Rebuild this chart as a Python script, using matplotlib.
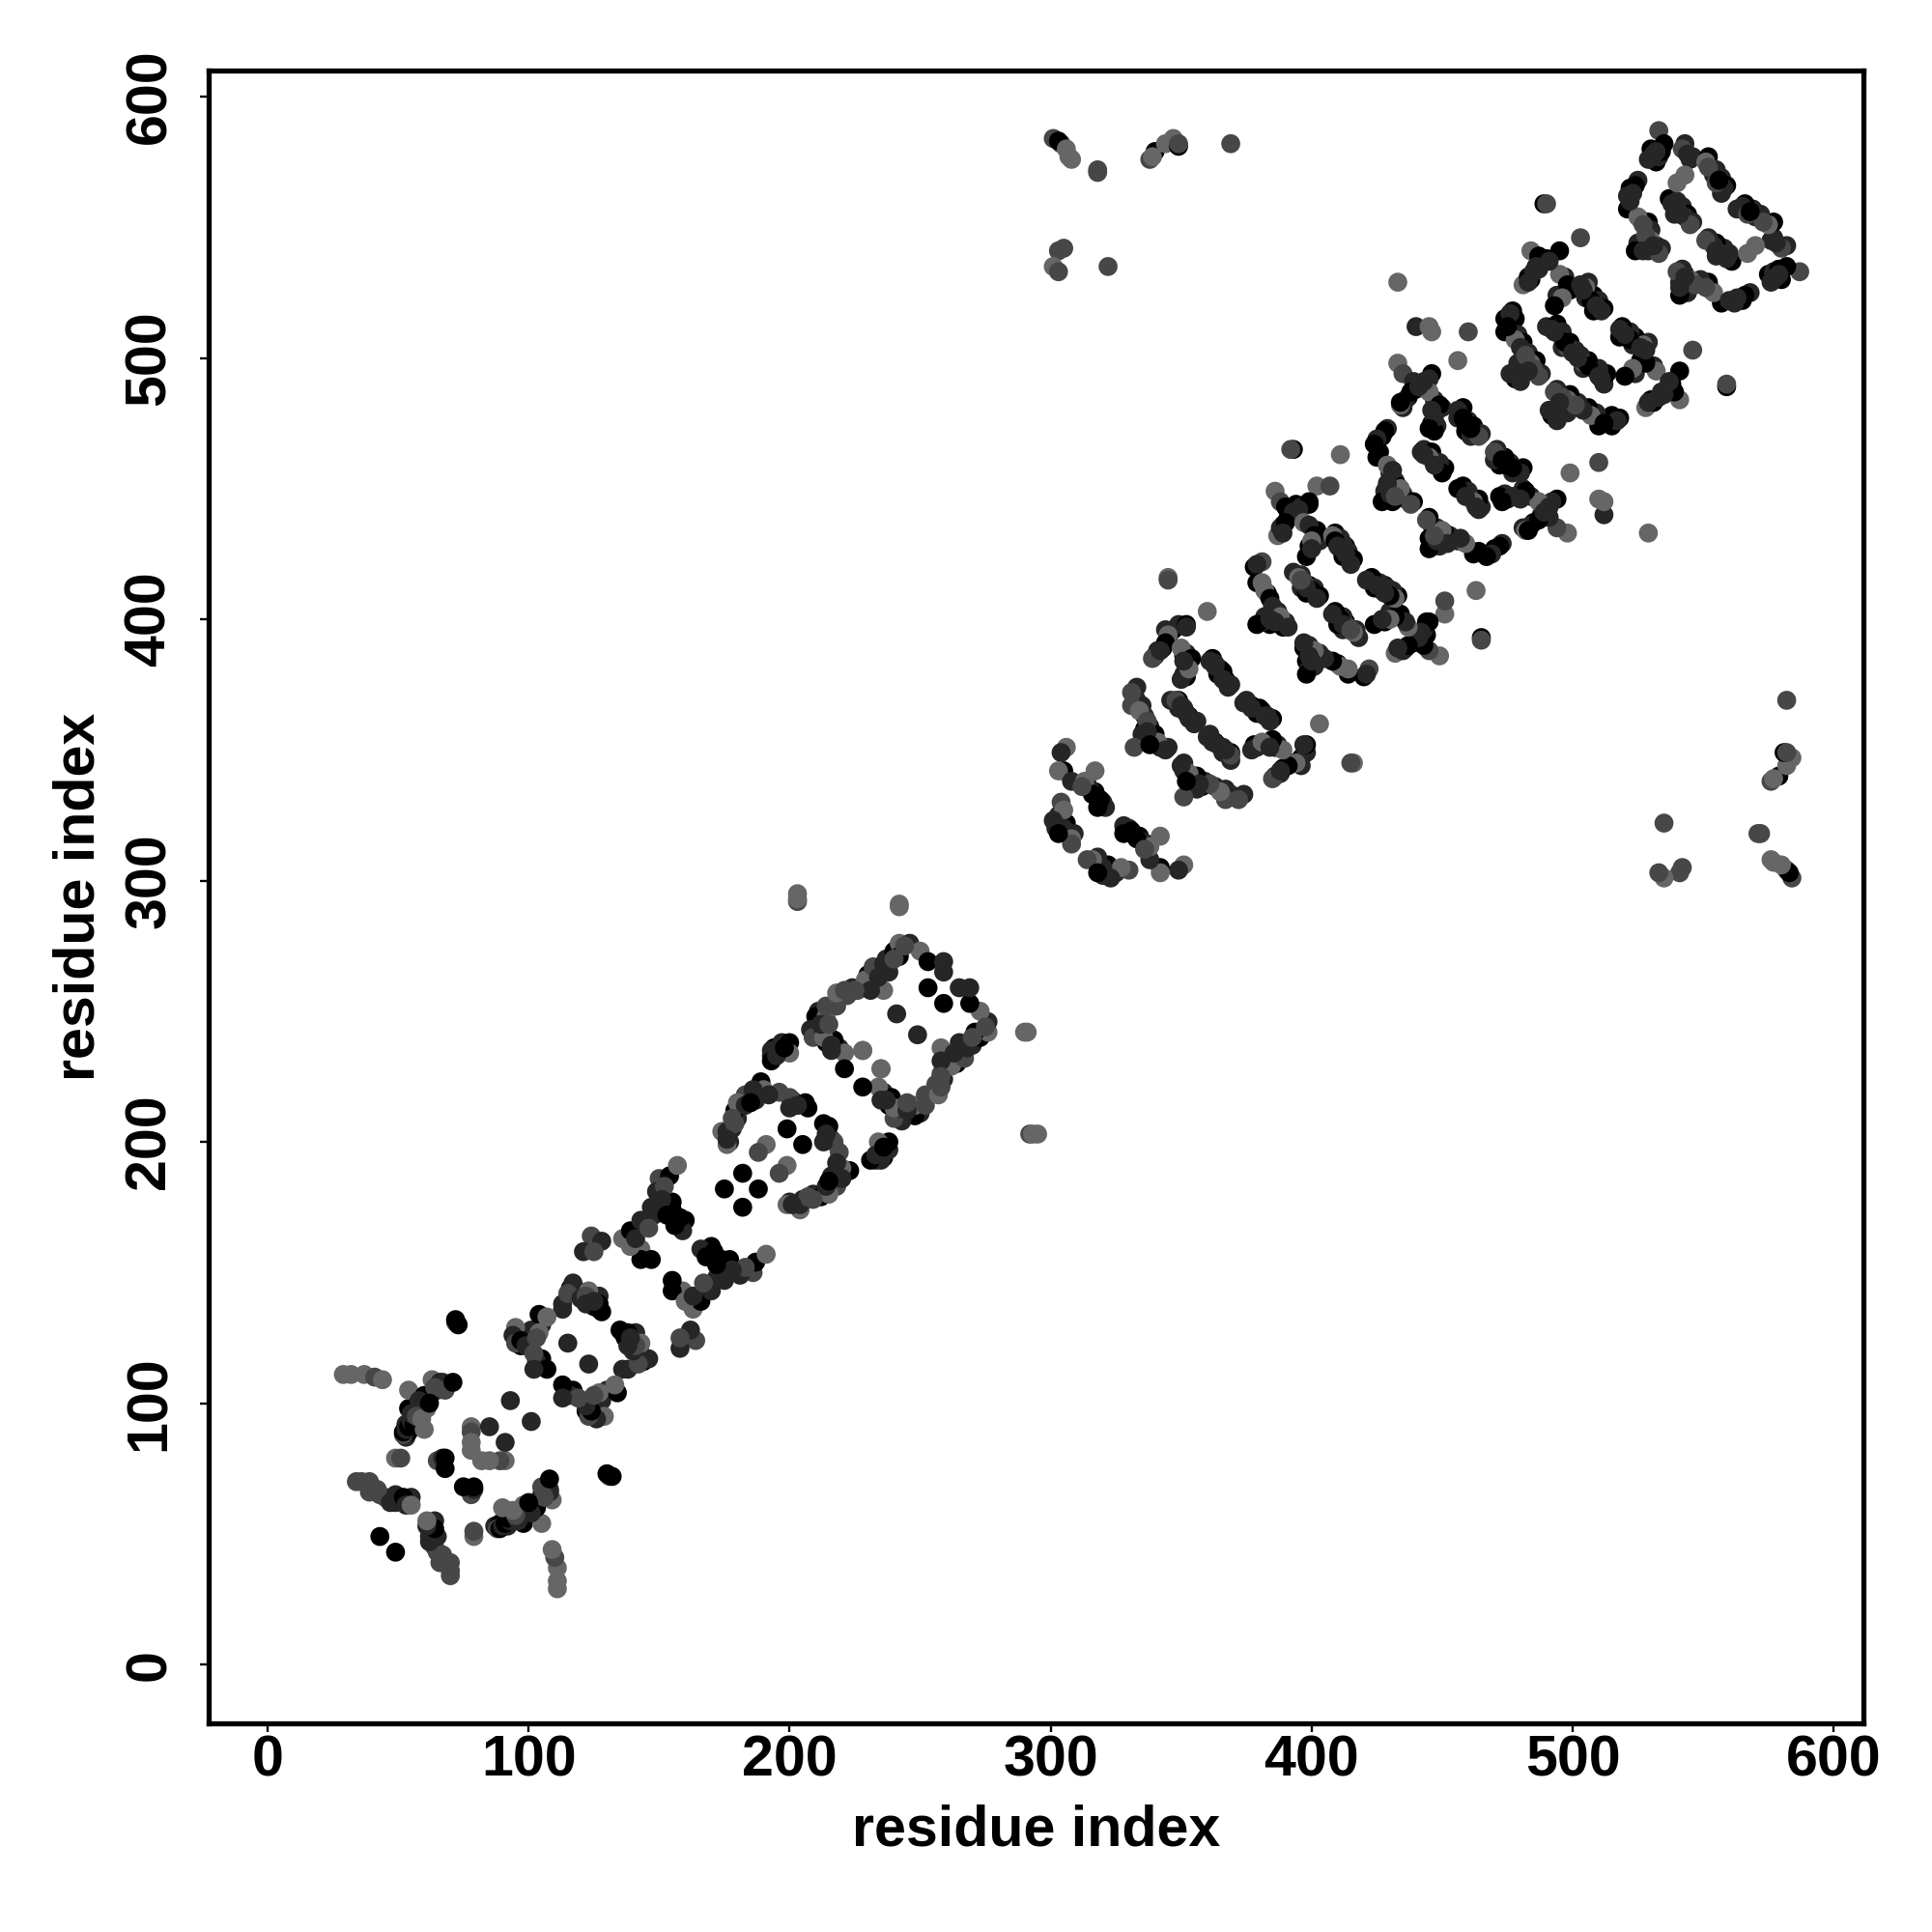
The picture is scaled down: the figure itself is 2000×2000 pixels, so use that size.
import numpy as np
import matplotlib
matplotlib.use('Agg')
import matplotlib.pyplot as plt

plt.rcParams['font.family'] = ['Liberation Sans', 'DejaVu Sans']
plt.rcParams['font.weight'] = 'bold'

#%% Contacts, upper triangle only (the map is symmetric). shade is % grey
# filling contacts in the thick bands, drawn first
fill1_i = [53,54,53,56,57,62,65,67,55,49,45,42,96,97,100,101,105,105,103,113,116,119,121,125,127]
fill1_j = [87,89,92,96,99,103,105,108,64,62,64,67,127,122,125,128,130,117,116,136,144,143,141,137,141]
fill1_s = [15,0,15,0,15,0,15,15,15,15,28,28,15,0,15,15,15,0,15,15,0,28,15,0,15]

fill2_i = [177,178,180,182,184,201,206,193,198,194,211,210,222,224,230,233,237,240,214,219,211,213]
fill2_j = [200,205,209,214,216,216,215,233,237,236,245,243,256,259,264,265,270,273,238,236,250,245]
fill2_s = [15,15,15,0,15,15,0,15,0,0,15,0,28,15,0,15,15,0,0,15,15,15]

fill3_i = [303,304,306,306,309,319,320,317,315,314,335,336,333,336,338,340,342,345,346,349,351,353,356,349]
fill3_j = [325,322,318,322,318,329,330,334,335,337,367,363,369,358,359,356,351,351,369,369,366,363,361,366]
fill3_s = [15,0,15,0,15,0,15,0,15,15,15,15,15,0,15,0,15,15,15,0,15,0,15,15]

fill4_i = [341,343,345,347,349,351,352,362,365,367,369,366,363,352,351,391,394,396,389,402,403,399,409,411,413,414,416,412]
fill4_j = [388,389,392,396,398,386,387,385,381,377,375,380,383,378,379,439,444,443,436,434,430,428,433,431,428,426,423,429]
fill4_s = [15,0,15,0,15,0,15,0,15,0,15,0,15,0,15,0,0,15,0,0,15,0,0,15,0,15,0,15]

fill5_i = [383,385,387,390,389,384,381,393,396,399,401,403,396,398,427,429,426,430,432,433,435,436,439,431,443,446,448,451,449]
fill5_j = [410,403,403,399,397,398,399,418,417,413,412,409,412,410,470,473,464,456,453,451,448,446,445,445,465,464,460,458,460]
fill5_s = [0,15,15,15,0,0,15,15,15,0,15,0,15,0,0,15,0,15,15,0,15,15,0,0,15,0,15,0,15]

fill6_i = [440,437,435,447,448,450,446,448,447,458,460,462,465,456,459,461,484,487,490,497,499,494,506,508,510,512,508,505]
fill6_j = [488,485,481,484,480,481,475,474,472,481,476,474,471,477,472,470,530,534,538,531,526,524,529,524,522,519,518,523]
fill6_s = [15,0,15,15,0,15,0,15,0,0,15,0,15,15,0,15,0,15,0,15,0,15,15,0,15,0,0,15]

fill7_i = [478,479,481,483,486,488,478,480,490,494,496,499,501,496,532,533,534,543,546,552,555,557,559,557,522,525,526,529,530,526,529,532,534,537,540,542,544,546,539]
fill7_j = [515,509,506,502,499,494,492,491,512,513,510,506,503,504,575,577,579,582,577,577,572,569,566,563,565,568,553,552,549,543,541,543,542,561,560,558,555,552,555]
fill7_s = [0,15,0,15,0,15,0,15,15,0,15,0,15,15,0,15,0,15,15,0,15,15,0,15,0,15,15,0,15,0,15,0,15,0,15,15,0,15,15]

tail_i = [29,32,37,41,44, 34,36,39,39,43,47,49,52,53,55, 43, 49,51]
tail_j = [111,111,111,110,109, 70,70,70,66,65,62,65,64,61,61, 49, 79,79]
tail_s = [40,40,40,28,40, 28,28,28,28,28,15,15,0,15,40, 0, 40,28]

h1_i = [52,52,53,54,55,56,60,61,54,55,54,60,58,63,66,68,71,64,57,59,62]
h1_j = [88,89,90,91,93,92,90,98,98,96,105,103,101,109,108,105,108,106,95,94,100]
h1_s = [28,0,15,0,15,0,40,40,0,15,40,0,15,40,15,28,0,28,28,40,0]

mid_i = [78,78,78,78,85,93,65,67,68,68,72,73,72]
mid_j = [91,89,85,82,91,101,78,79,75,79,131,130,132]
mid_s = [40,28,40,40,15,15,28,15,0,0,28,0,0]

ring1_i = [95,94,95,97,99,104,107,104,103,102,107,102,115,113,117,115,123,120,122,127,122,128,127,125]
ring1_j = [129,126,123,124,122,134,133,127,125,119,113,113,123,138,146,142,143,140,141,138,138,135,136,139]
ring1_s = [40,15,28,0,15,0,40,40,28,28,0,15,15,15,15,28,40,15,28,0,15,0,0,15]

h2_i = [124,128,121,125,136,139,143,147,150,154,157,149,143,147,143,139,155,160,159,155,152,151,148,153,156,158,141,146]
h2_j = [164,162,158,158,163,166,170,175,186,187,191,181,159,155,155,160,174,170,166,177,183,178,172,172,168,171,163,167]
h2_s = [28,15,15,28,40,0,15,15,28,0,40,15,40,0,0,40,0,0,15,0,28,15,15,0,0,0,15,28]

ring2_i = [174,176,176,179,179,183,180,183,189,190,187,196,200,207,200,199,191,188,182,175,193,193,197,200,200,195,198,176,178,186,185,192,203]
ring2_j = [204,199,204,207,212,218,215,214,223,220,216,219,217,213,213,205,199,196,188,182,235,231,238,238,234,233,236,201,209,220,215,218,214]
ring2_s = [40,40,15,28,0,28,40,15,0,40,15,28,28,0,15,0,40,28,0,0,15,0,15,0,40,15,0,15,28,15,0,15,15]

ring3_i = [210,208,209,214,214,218,218,221,226,229,232,236,242,246,242,250,253,259,259,236,231,217,213,213,221,216,221,228,235,241,253,225,234,238,240,212,215,244,216]
ring3_j = [248,243,240,248,252,252,257,258,258,262,267,268,276,276,271,273,269,269,265,258,258,239,242,240,234,235,228,235,228,249,259,258,263,265,270,245,245,275,237]
ring3_s = [0,15,28,40,28,28,40,28,28,40,28,15,40,15,0,40,0,15,15,40,15,0,15,40,40,15,0,40,40,15,0,28,15,15,28,15,28,28,15]

far1_i = [242,242,203,203,203,345,345,360,322,318,318,369]
far1_j = [290,291,292,293,295,416,415,403,535,571,572,582]
far1_s = [40,40,28,40,40,40,28,40,28,28,28,28]

h3_i = [306,304,305,303,308,313,317,316,321,318,304,305,301,302,305,308,308,303,312,319]
h3_j = [351,349,342,342,338,338,342,333,328,328,330,327,323,320,320,316,314,318,336,331]
h3_s = [40,15,0,40,15,40,40,0,15,0,28,40,15,15,15,40,28,0,28,0]

h4_i = [333,331,331,334,337,335,332,339,341,344,337,338,348,350,352,355,353]
h4_j = [374,372,367,365,361,356,351,355,353,350,357,352,369,367,364,360,362]
h4_s = [15,28,28,40,28,15,28,0,40,15,15,0,28,15,15,15,15]

h5_i = [344,352,352,345,340,339,344,342,350,354,350,353,351,361,364,368,363,366]
h5_j = [396,398,397,394,386,385,391,388,389,385,377,381,384,384,379,374,382,377]
h5_s = [15,0,15,40,15,28,0,15,40,0,15,40,15,15,0,15,15,15]

h6_i = [393,392,411,386,388,402,407,390,393,399,399,395,387,388,390,389,397,399,401,400,398,400,408,409,411,412,415,413,410]
h6_j = [465,465,463,449,445,451,451,443,441,445,444,442,432,435,437,433,437,436,432,430,424,427,432,430,427,424,421,425,428]
h6_s = [0,28,40,40,28,40,28,0,15,0,0,15,40,15,0,15,40,15,0,40,0,15,40,0,15,0,15,15,15]

h7_i = [381,378,379,379,381,382,384,385,382,388,391,379,386,384,395,397,400,402,398,396]
h7_j = [422,420,421,414,414,411,408,405,401,401,397,398,399,400,416,414,411,408,412,415]
h7_s = [28,0,15,0,40,40,0,15,15,40,15,0,15,15,40,28,0,15,15,28]

h8_i = [428,425,424,425,429,431,428,427,434,438,429,430,432,442,445,450,447,443]
h8_j = [472,469,467,462,459,457,449,445,450,444,452,448,447,464,462,456,459,463]
h8_s = [0,15,0,0,40,15,15,0,40,28,15,15,28,15,40,0,15,15]

h9_i = [433,435,439,446,445,436,434,434,438,445,449,447,445,446,441,443,456,459,464,461,457,458]
h9_j = [498,494,491,494,492,484,482,483,487,487,482,477,473,480,489,491,480,475,470,473,478,477]
h9_s = [40,28,15,0,15,15,40,0,0,40,0,15,0,15,15,15,15,0,28,0,15,0]

far2_i = [433,440,445,446,460,456,489,490,503]
far2_j = [529,512,512,510,510,499,559,559,546]
far2_s = [40,15,40,40,28,40,0,28,28]

h10_i = [484,495,488,487,481,483,485,495,498,496,493,483,486,491,505,507,511,503,509,504]
h10_j = [541,541,537,539,528,531,533,532,528,523,520,529,535,537,527,522,518,528,520,526]
h10_s = [40,0,15,0,40,0,15,40,0,40,0,15,15,15,40,0,15,15,15,15]

h11_i = [477,474,474,478,480,484,487,476,479,481,476,475,482,485,483,492,495,498,497,493,500]
h11_j = [518,515,510,507,504,498,493,494,498,494,517,512,501,496,495,511,509,504,506,510,502]
h11_s = [0,0,0,40,15,40,28,15,15,15,15,0,28,28,15,15,15,28,0,15,15]

h12_i = [533,530,529,535,542,545,551,554,543,540,558,555,531,532,544,552,556]
h12_j = [587,580,576,582,580,576,575,570,570,567,565,567,578,579,578,573,568]
h12_s = [28,0,15,0,28,15,40,15,40,40,15,28,15,15,15,28,0]

h13_i = [524,521,521,525,527,525,524,530,533,523,522,528,531,527,538,540,543,545,539,541]
h13_j = [566,562,557,554,551,544,541,545,540,563,560,547,543,541,559,557,554,551,558,555]
h13_s = [0,15,0,40,28,15,0,40,28,15,15,28,15,15,15,15,15,28,15,15]

top_i = [301,304,303,306,308,307,338,340,339,344,347,349,349,305,303,301,303]
top_j = [584,582,583,580,576,577,576,579,577,582,584,581,582,542,541,535,533]
top_s = [28,28,0,40,40,40,28,0,40,40,40,0,28,28,28,40,28]

residue_i = fill1_i+fill2_i+fill3_i+fill4_i+fill5_i+fill6_i+fill7_i+tail_i+h1_i+mid_i+ring1_i+h2_i+ring2_i+ring3_i+far1_i+h3_i+h4_i+h5_i+h6_i+h7_i+h8_i+h9_i+far2_i+h10_i+h11_i+h12_i+h13_i+top_i
residue_j = fill1_j+fill2_j+fill3_j+fill4_j+fill5_j+fill6_j+fill7_j+tail_j+h1_j+mid_j+ring1_j+h2_j+ring2_j+ring3_j+far1_j+h3_j+h4_j+h5_j+h6_j+h7_j+h8_j+h9_j+far2_j+h10_j+h11_j+h12_j+h13_j+top_j
shade = fill1_s+fill2_s+fill3_s+fill4_s+fill5_s+fill6_s+fill7_s+tail_s+h1_s+mid_s+ring1_s+h2_s+ring2_s+ring3_s+far1_s+h3_s+h4_s+h5_s+h6_s+h7_s+h8_s+h9_s+far2_s+h10_s+h11_s+h12_s+h13_s+top_s

ticks = [0, 100, 200, 300, 400, 500, 600]

#%% Plotting
n = len(shade)
x = np.array(residue_i + residue_j)
y = np.array(residue_j + residue_i)
grey = [str(s / 100) for s in shade + shade]
# keep the filling contacts under the rest on both sides of the diagonal
order = np.argsort(np.r_[np.arange(n), np.arange(n)], kind='stable')

fig = plt.figure(figsize=(10, 10), dpi=200)
ax = fig.add_axes([0.108, 0.108, 0.8565, 0.8555])
ax.scatter(x[order], y[order], s=50, c=[grey[k] for k in order], linewidths=0)
ax.set_xlim(-22.6, 611.4)
ax.set_ylim(-22.5, 610)

for side in ax.spines.values():
    side.set_linewidth(1.9)
ax.set_xticks(ticks)
ax.set_yticks(ticks)
ax.tick_params(axis='x', length=3.4, width=0.85, labelsize=21.3, pad=0.8)
ax.tick_params(axis='y', length=3.4, width=0.85, labelsize=21.3, pad=8.5)
plt.setp(ax.get_yticklabels(), rotation=90, va='center')
ax.set_xlabel('residue index', fontsize=21.3, fontweight='bold', labelpad=6)
ax.set_ylabel('residue index', fontsize=21.3, fontweight='bold', labelpad=6.8)

fig.savefig('out.png', dpi=200)
